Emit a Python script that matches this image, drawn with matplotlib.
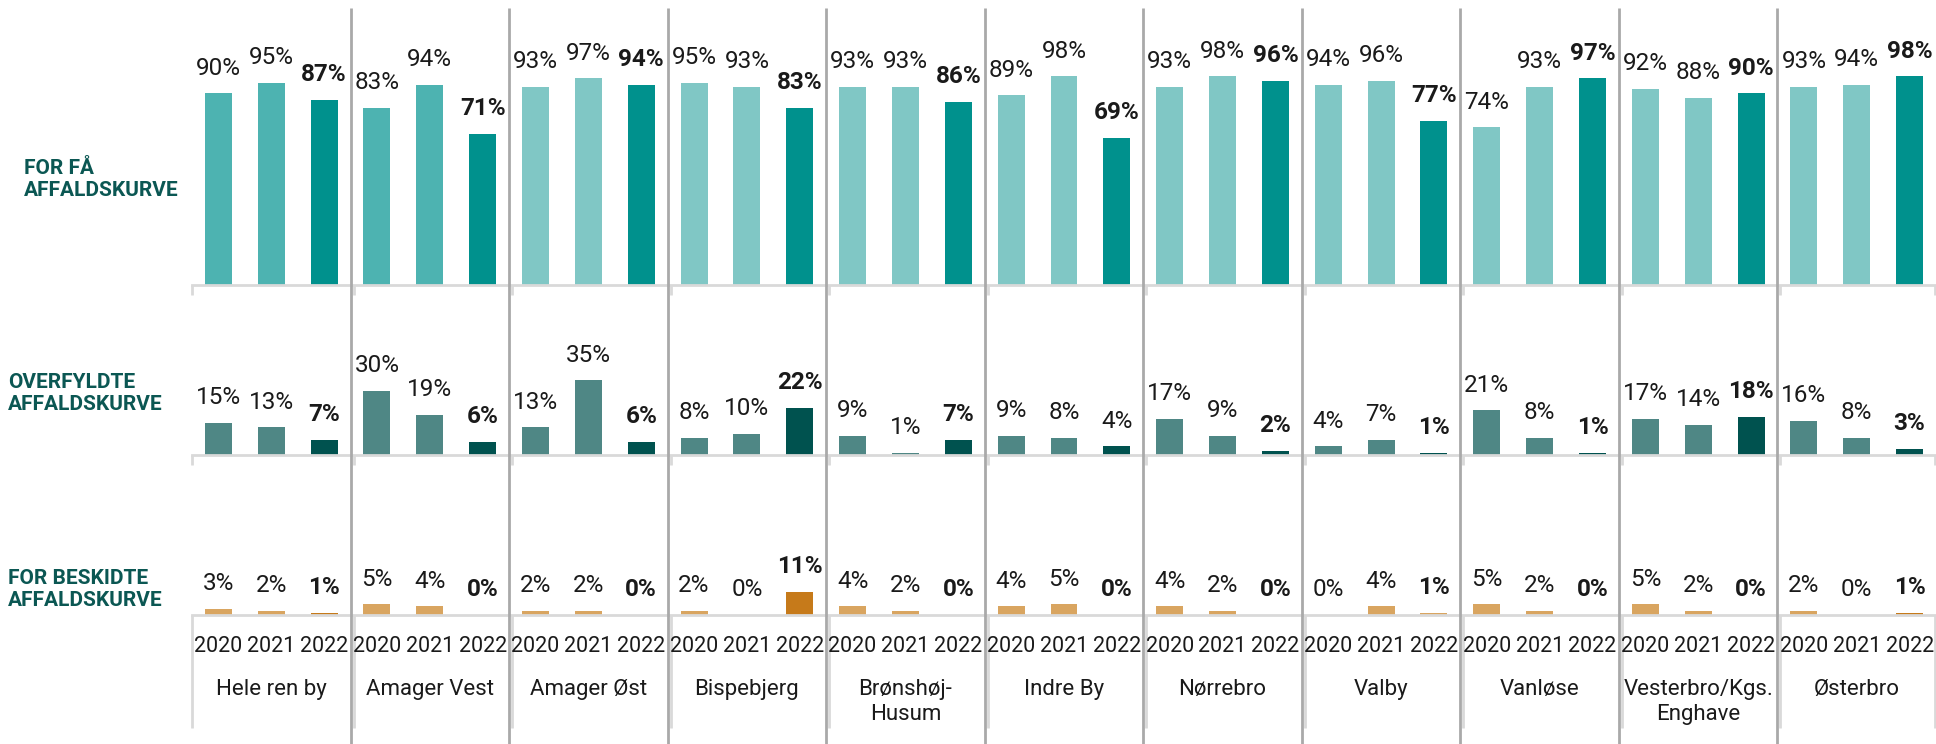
import matplotlib
matplotlib.use("Agg")
import matplotlib.pyplot as plt
from matplotlib.lines import Line2D

# --- data (percent) ---
DISTRICTS = ["Hele ren by", "Amager Vest", "Amager Øst", "Bispebjerg", "Brønshøj-\nHusum",
             "Indre By", "Nørrebro", "Valby", "Vanløse", "Vesterbro/Kgs.\nEnghave", "Østerbro"]
YEARS = ["2020", "2021", "2022"]
ROW_LABELS = ["FOR FÅ\nAFFALDSKURVE", "OVERFYLDTE\nAFFALDSKURVE", "FOR BESKIDTE\nAFFALDSKURVE"]

for_faa = [[90, 95, 87], [83, 94, 71], [93, 97, 94], [95, 93, 83], [93, 93, 86], [89, 98, 69],
           [93, 98, 96], [94, 96, 77], [74, 93, 97], [92, 88, 90], [93, 94, 98]]
overfyldte = [[15, 13, 7], [30, 19, 6], [13, 35, 6], [8, 10, 22], [9, 1, 7], [9, 8, 4],
              [17, 9, 2], [4, 7, 1], [21, 8, 1], [17, 14, 18], [16, 8, 3]]
beskidte = [[3, 2, 1], [5, 4, 0], [2, 2, 0], [2, 0, 11], [4, 2, 0], [4, 5, 0],
            [4, 2, 0], [0, 4, 1], [5, 2, 0], [5, 2, 0], [2, 0, 1]]
ROWS = [for_faa, overfyldte, beskidte]

# --- styling ---
W, H = 1936, 744
X0, X1 = 192, 1936
ROW_PX = [(30, 285), (285, 455), (455, 615)]   # (top, baseline) in pixels from top
PX_PER_PCT = 2.13
BAR_W = 0.17
TXT = "#1a1a1a"
LABEL_COL = "#0b5753"
SEP_COL = "#a9a9a9"
AXIS_COL = "#d9d9d9"
# (2020/21 colour, 2022 colour) per row
COLORS = [("#80c7c5", "#00918d"), ("#4f8785", "#00524f"), ("#d9a560", "#c67a1a")]
TOP_DARK_GROUPS = 2          # first groups use deeper teal in the top row
BOTTOM_LIGHT_2022 = {"Valby"}  # 2022 bar left in light tan
MID_REGULAR_2022 = {"Indre By"}  # 2022 label not bold

plt.rcParams["font.family"] = ["Roboto", "DejaVu Sans"]

fig = plt.figure(figsize=(W / 100, H / 100), dpi=100)


def fx(x):
    return x / W


def fy(y):
    return 1 - y / H


def vline(x, y0, y1, color, lw):
    fig.add_artist(Line2D([fx(x), fx(x)], [fy(y0), fy(y1)], transform=fig.transFigure,
                          color=color, lw=lw, solid_capstyle="butt"))


n = len(DISTRICTS)
gw = (X1 - X0) / n

for r, (data, (top, base)) in enumerate(zip(ROWS, ROW_PX)):
    ax = fig.add_axes([fx(X0), fy(base), (X1 - X0) / W, (base - top) / H])
    ax.set_xlim(0, n)
    ax.set_ylim(0, (base - top) / PX_PER_PCT)
    ax.axis("off")
    for i, (name, vals) in enumerate(zip(DISTRICTS, data)):
        for j, v in enumerate(vals):
            x = i + 0.5 + (j - 1) / 3
            light, dark = COLORS[r]
            if r == 0 and j < 2 and i < TOP_DARK_GROUPS:
                c = "#4db3b1"
            elif j < 2:
                c = light
            elif r == 2 and name in BOTTOM_LIGHT_2022:
                c = light
            else:
                c = dark
            ax.bar(x, v, width=BAR_W, color=c, edgecolor="none")
            bold = j == 2 and not (r == 1 and name in MID_REGULAR_2022)
            ax.annotate(f"{v}%", (x, v), xytext=(0, 13.5), textcoords="offset points",
                        ha="center", va="baseline", fontsize=17.5, color=TXT,
                        fontweight="bold" if bold else "normal")

    # baseline + ticks
    fig.add_artist(Line2D([fx(X0), fx(X1)], [fy(base), fy(base)], transform=fig.transFigure,
                          color=AXIS_COL, lw=2))
    for k in range(n + 1):
        xb = X0 + k * gw + (3 if 0 < k < n else 0)
        xb = min(xb, X1 - 1)
        vline(xb, base, 728 if r == 2 else base + 10, AXIS_COL, 2)

    # row label
    lx = 24 if r == 0 else 8
    ly = [180, 393, 589][r]
    fig.text(fx(lx), fy(ly), ROW_LABELS[r], ha="left", va="center", fontsize=15,
             fontweight="bold", color=LABEL_COL, linespacing=1.2)

# separators between districts
for k in range(1, n):
    vline(X0 + k * gw, 8, H, SEP_COL, 2)

# category axis: years and district names
for i, name in enumerate(DISTRICTS):
    cx = X0 + (i + 0.5) * gw
    for j, yr in enumerate(YEARS):
        fig.text(fx(cx + (j - 1) * gw / 3), fy(652), yr, ha="center", va="baseline",
                 fontsize=15.5, color=TXT)
    for li, line in enumerate(name.split("\n")):
        fig.text(fx(cx), fy(695 + 25 * li), line, ha="center", va="baseline",
                 fontsize=16, color=TXT)

fig.savefig("out.png", dpi=100)
